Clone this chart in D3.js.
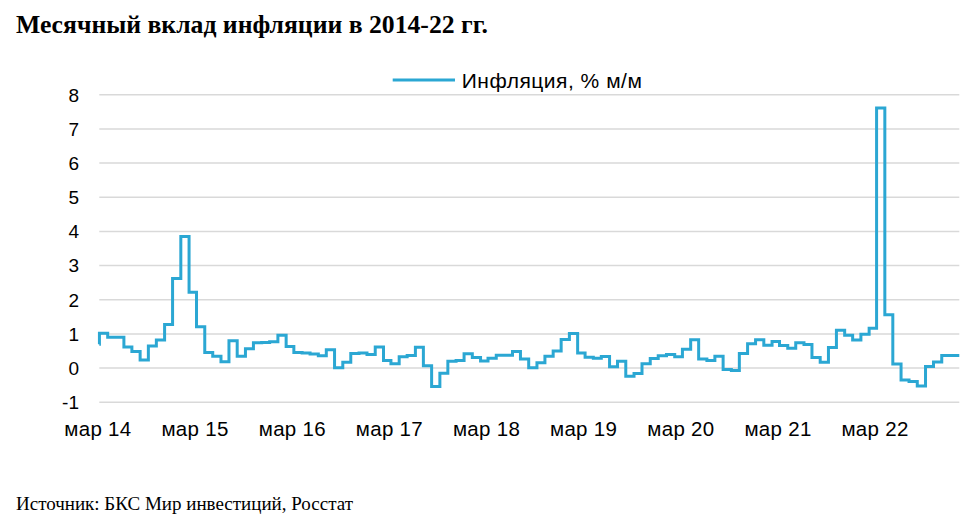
<!DOCTYPE html>
<html>
<head>
<meta charset="utf-8">
<script src="https://cdn.jsdelivr.net/npm/d3@7"></script>
<style>
  body { margin: 0; background: #fff; }
</style>
</head>
<body>
<svg id="chart" width="972" height="526"></svg>
<script>
// monthly CPI, % m/m, first value = Feb 2014
const firstMonth = new Date(2014, 1, 1);
const inflation = [
    0.70, 1.02, 0.90, 0.90, 0.62, 0.49, 0.24, 0.65, 0.82, 1.28, 2.62,        // 2014
    3.85, 2.22, 1.21, 0.46, 0.35, 0.19, 0.80, 0.35, 0.57, 0.74, 0.75, 0.77,  // 2015
    0.96, 0.63, 0.46, 0.44, 0.41, 0.36, 0.54, 0.01, 0.17, 0.43, 0.44, 0.40,  // 2016
    0.62, 0.22, 0.13, 0.33, 0.37, 0.61, 0.07, -0.54, -0.15, 0.20, 0.22, 0.42, // 2017
    0.31, 0.21, 0.29, 0.38, 0.38, 0.49, 0.27, 0.01, 0.16, 0.35, 0.50, 0.84,  // 2018
    1.01, 0.44, 0.32, 0.29, 0.34, 0.04, 0.20, -0.24, -0.16, 0.13, 0.28, 0.36, // 2019
    0.40, 0.33, 0.55, 0.83, 0.27, 0.22, 0.35, -0.04, -0.07, 0.43, 0.71, 0.83, // 2020
    0.67, 0.78, 0.66, 0.58, 0.74, 0.69, 0.31, 0.17, 0.60, 1.11, 0.96, 0.82,  // 2021
    0.99, 1.17, 7.61, 1.56, 0.12, -0.35, -0.39, -0.52, 0.05, 0.18, 0.37, 0.37 // 2022
];
const tickYears = [2014, 2015, 2016, 2017, 2018, 2019, 2020, 2021, 2022];
const tickLabels = ["мар 14", "мар 15", "мар 16", "мар 17", "мар 18", "мар 19", "мар 20", "мар 21", "мар 22"];
const yTicks = [-1, 0, 1, 2, 3, 4, 5, 6, 7, 8];

const title = "Месячный вклад инфляции в 2014-22 гг.";
const seriesName = "Инфляция, % м/м";
const sourceText = "Источник: БКС Мир инвестиций, Росстат";

const lineColor = "#2ba7d3";
const sans = "'Liberation Sans', Arial, sans-serif";
const serif = "'Liberation Serif', 'Times New Roman', serif";

const svg = d3.select("#chart");

const endDate = new Date(2023, 0, 6);
const x = d3.scaleTime()
    .domain([new Date(2014, 1, 28, 12), endDate])
    .range([99.3, 959.3])
    .clamp(true);

const y = d3.scaleLinear()
    .domain([-1, 8])
    .range([402.3, 94.7]);

const data = inflation.map((v, i) => ({ date: d3.timeMonth.offset(firstMonth, i), value: v }));
data.push({ date: endDate, value: inflation[inflation.length - 1] });

// gridlines
svg.append("g")
    .selectAll("line")
    .data(yTicks)
    .enter().append("line")
    .attr("x1", x.range()[0])
    .attr("x2", x.range()[1])
    .attr("y1", d => y(d))
    .attr("y2", d => y(d))
    .attr("stroke", "#d9d9d9")
    .attr("stroke-width", 1.5);

// y labels
svg.append("g")
    .selectAll("text")
    .data(yTicks)
    .enter().append("text")
    .attr("x", 79)
    .attr("y", d => y(d))
    .attr("dy", "0.36em")
    .attr("text-anchor", "end")
    .attr("font-family", sans)
    .attr("font-size", 19)
    .attr("fill", "#000")
    .text(d => d);

// x labels
svg.append("g")
    .selectAll("text")
    .data(tickYears)
    .enter().append("text")
    .attr("x", d => x(new Date(d, 2, 1)) - 1.5)
    .attr("y", 436)
    .attr("text-anchor", "middle")
    .attr("font-family", sans)
    .attr("font-size", 20.5)
    .attr("letter-spacing", 0.3)
    .attr("fill", "#000")
    .text((d, i) => tickLabels[i]);

// step line
const line = d3.line()
    .x(d => x(d.date))
    .y(d => y(d.value))
    .curve(d3.curveStepAfter);

svg.append("path")
    .datum(data)
    .attr("d", line)
    .attr("fill", "none")
    .attr("stroke", lineColor)
    .attr("stroke-width", 3)
    .attr("stroke-linejoin", "miter");

// legend
svg.append("line")
    .attr("x1", 392.7).attr("x2", 455)
    .attr("y1", 80).attr("y2", 80)
    .attr("stroke", lineColor)
    .attr("stroke-width", 3);

svg.append("text")
    .attr("x", 461.7)
    .attr("y", 87.5)
    .attr("font-family", sans)
    .attr("font-size", 21)
    .attr("letter-spacing", 0.5)
    .attr("fill", "#000")
    .text(seriesName);

// title and source
svg.append("text")
    .attr("x", 16)
    .attr("y", 33.3)
    .attr("font-family", serif)
    .attr("font-weight", "bold")
    .attr("font-size", 25.7)
    .attr("fill", "#000")
    .text(title);

svg.append("text")
    .attr("x", 16)
    .attr("y", 510)
    .attr("font-family", serif)
    .attr("font-size", 19)
    .attr("fill", "#000")
    .text(sourceText);
</script>
</body>
</html>
